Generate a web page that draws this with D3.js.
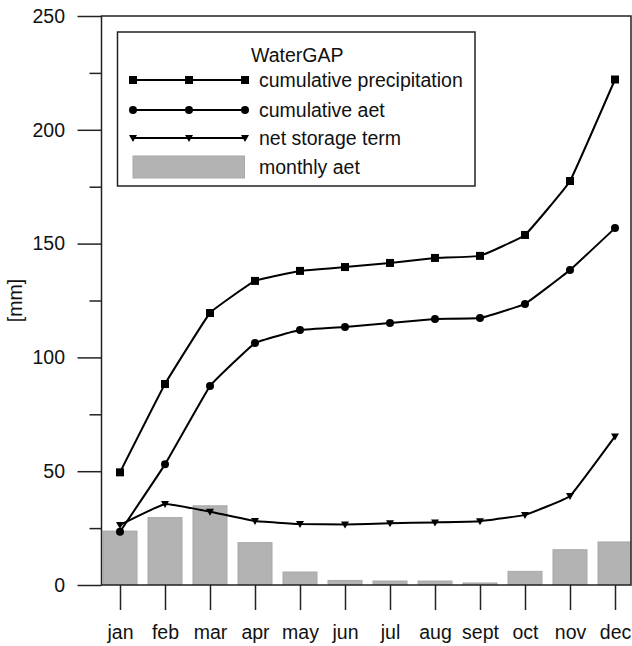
<!DOCTYPE html>
<html><head><meta charset="utf-8">
<script src="https://cdn.jsdelivr.net/npm/d3@7"></script>
<style>body{margin:0;background:#fff}svg{display:block}text{font-family:"Liberation Sans",Arial,sans-serif;fill:#111}</style>
</head><body>
<svg id="c" width="632" height="646"></svg>
<script>
const months = ["jan","feb","mar","apr","may","jun","jul","aug","sept","oct","nov","dec"];
const cumPrecip = [49.5,88.3,119.5,133.6,138,139.7,141.5,143.7,144.6,153.8,177.5,222.1];
const cumAet = [23.4,53,87.4,106.3,112,113.4,115.1,116.9,117.3,123.5,138.4,156.8];
const netStorage = [26.4,35.6,32.2,28.1,26.8,26.6,27.1,27.5,28.0,30.8,39.1,65.3];
const monthlyAet = [23.7,29.6,34.8,18.6,5.7,2.0,1.75,1.75,0.9,6.0,15.5,18.9];
const yMajor = [0,50,100,150,200,250];
const yMinor = [25,75,125,175,225];
const legendLabels = ["cumulative precipitation","cumulative aet","net storage term","monthly aet"];

const L=101.5,R=631,T=16,B=585;
const svg=d3.select("#c");
const x=d3.scalePoint().domain(months).range([120,615]);
const y=d3.scaleLinear().domain([0,250]).range([B,T]);
const fs=19.5;

svg.append("clipPath").attr("id","clip").append("rect").attr("x",L).attr("y",T).attr("width",R-L).attr("height",B-T);

// bars
svg.append("g").attr("clip-path","url(#clip)").selectAll("rect").data(monthlyAet).join("rect")
  .attr("x",(d,i)=>x(months[i])-17).attr("width",34)
  .attr("y",d=>y(d)).attr("height",d=>B-y(d))
  .attr("fill","#b3b3b3").attr("stroke","#a8a8a8").attr("stroke-width",1);

// frame
svg.append("rect").attr("x",L).attr("y",T).attr("width",R-L).attr("height",B-T)
  .attr("fill","none").attr("stroke","#222").attr("stroke-width",1.5);

// y axis
const gy=svg.append("g").attr("transform",`translate(${L},0)`)
  .call(d3.axisLeft(y).tickValues(yMajor).tickSize(24).tickSizeOuter(0).tickPadding(12.5));
gy.select(".domain").remove();
gy.selectAll("line").attr("stroke","#222").attr("stroke-width",1.5);
gy.selectAll("text").style("font-size",fs+"px").attr("fill","#111");
const gy2=svg.append("g").attr("transform",`translate(${L},0)`)
  .call(d3.axisLeft(y).tickValues(yMinor).tickSize(12).tickFormat(""));
gy2.select(".domain").remove();
gy2.selectAll("line").attr("stroke","#222").attr("stroke-width",1.5);

// x axis
const gx=svg.append("g").attr("transform",`translate(0,${B})`)
  .call(d3.axisBottom(x).tickSize(25).tickSizeOuter(0).tickPadding(15));
gx.select(".domain").remove();
gx.selectAll("line").attr("stroke","#222").attr("stroke-width",1.5);
gx.selectAll("text").style("font-size",fs+"px").attr("fill","#111");

svg.append("text").attr("transform","translate(15.5,300.5) rotate(-90)").attr("text-anchor","middle")
  .attr("dy","0.35em").style("font-size",fs+"px").text("[mm]");

// lines
const line=d3.line().x((d,i)=>x(months[i])).y(d=>y(d)).curve(d3.curveCardinal.tension(0.75));
function marker(g,type,cx,cy){
  if(type==="square") g.append("rect").attr("x",cx-4).attr("y",cy-4).attr("width",8).attr("height",8).attr("fill","#000");
  else if(type==="circle") g.append("circle").attr("cx",cx).attr("cy",cy).attr("r",4).attr("fill","#000");
  else g.append("path").attr("d",`M${cx-4},${cy-3}L${cx+4},${cy-3}L${cx},${cy+4}Z`).attr("fill","#000");
}
const series=[[cumPrecip,"square"],[cumAet,"circle"],[netStorage,"tri"]];
series.forEach(([data,type])=>{
  svg.append("path").attr("d",line(data)).attr("fill","none").attr("stroke","#000").attr("stroke-width",2);
  const g=svg.append("g");
  data.forEach((d,i)=>marker(g,type,x(months[i]),y(d)));
});

// legend
const lg=svg.append("g");
lg.append("rect").attr("x",117.5).attr("y",32).attr("width",357.5).attr("height",154)
  .attr("fill","#fff").attr("stroke","#222").attr("stroke-width",1.5);
lg.append("text").attr("x",251).attr("y",62).style("font-size",fs+"px").text("WaterGAP");
const rowsY=[80,110,138];
["square","circle","tri"].forEach((t,i)=>{
  const yy=rowsY[i];
  lg.append("line").attr("x1",133).attr("x2",245).attr("y1",yy).attr("y2",yy).attr("stroke","#000").attr("stroke-width",2);
  [133,189,245].forEach(cx=>marker(lg,t,cx,yy));
});
lg.append("rect").attr("x",133).attr("y",156).attr("width",111.5).attr("height",22).attr("fill","#b3b3b3").attr("stroke","#a8a8a8");
legendLabels.forEach((s,i)=>{
  const yy=i<3?rowsY[i]:167;
  lg.append("text").attr("x",259).attr("y",yy).attr("dy","0.35em").style("font-size",fs+"px").text(s);
});
</script>
</body></html>
